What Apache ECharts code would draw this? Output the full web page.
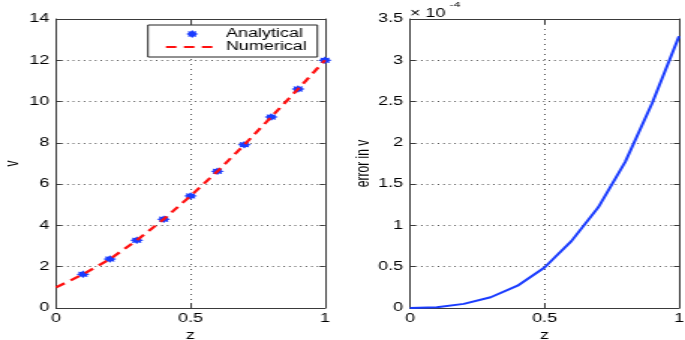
<!DOCTYPE html>
<html>
<head>
<meta charset="utf-8">
<script src="https://cdn.jsdelivr.net/npm/echarts@6/dist/echarts.min.js"></script>
<style>
  html, body { margin: 0; padding: 0; background: #fff; overflow: hidden; }
  /* the source figure is stretched sideways, so draw narrow and widen it */
  #chart { width: 457px; height: 340px; transform: scaleX(1.4989); transform-origin: 0 0; }
</style>
</head>
<body>
<div id="chart"></div>
<script>
// z positions
const zNum = [0, 0.1, 0.2, 0.3, 0.4, 0.5, 0.6, 0.7, 0.8, 0.9, 1.0]
const zAna = [0.1, 0.2, 0.3, 0.4, 0.5, 0.6, 0.7, 0.8, 0.9, 1.0]
// v values
const vNumerical = [1.0, 1.63, 2.37, 3.28, 4.3, 5.43, 6.62, 7.91, 9.25, 10.61, 12.0]
const vAnalytical = [1.63, 2.37, 3.28, 4.3, 5.43, 6.62, 7.91, 9.25, 10.61, 12.0]
// error in v, in units of 1e-4
const errV = [0, 0.01, 0.05, 0.13, 0.27, 0.49, 0.81, 1.22, 1.77, 2.48, 3.29]

const FONT = 'Liberation Sans'
const AXIS = '#3a3a3a'
const BLUE = '#1a3cff'
const RED = '#ff1010'
// asterisk-like marker
const STAR = 'path://M20 10L16 12.49L17.07 17.07L12.49 16L10 20L7.51 16L2.93 17.07L4 12.49L0 10L4 7.51L2.93 2.93L7.51 4L10 0L12.49 4L17.07 2.93L16 7.51Z'

const chart = echarts.init(document.getElementById('chart'))

function xMain(grid) {
  return {
    gridIndex: grid, type: 'value', min: 0, max: 1, interval: 0.5, position: 'bottom',
    name: 'z', nameLocation: 'middle', nameGap: 17,
    nameTextStyle: { fontFamily: FONT, fontSize: 12, color: '#000' },
    axisLine: { show: true, onZero: false, lineStyle: { color: AXIS, width: 1 } },
    axisTick: { show: true, inside: true, length: 5, lineStyle: { color: AXIS } },
    axisLabel: { fontFamily: FONT, fontSize: 12, color: '#000', margin: 5 },
    splitLine: { show: true, lineStyle: { color: '#555', width: 1, type: [1, 4] } },
  }
}
function xTop(grid) {
  return {
    gridIndex: grid, type: 'value', min: 0, max: 1, interval: 0.5, position: 'top',
    axisLine: { show: true, onZero: false, lineStyle: { color: AXIS, width: 1 } },
    axisTick: { show: true, inside: true, length: 5, lineStyle: { color: AXIS } },
    axisLabel: { show: false }, splitLine: { show: false },
  }
}
function yMain(grid, max, interval, name, gap) {
  return {
    gridIndex: grid, type: 'value', min: 0, max: max, interval: interval, position: 'left',
    name: name, nameLocation: 'middle', nameGap: gap,
    nameTextStyle: { fontFamily: FONT, fontSize: 12, color: '#000' },
    axisLine: { show: true, onZero: false, lineStyle: { color: AXIS, width: 1 } },
    axisTick: { show: true, inside: true, length: 3.5, lineStyle: { color: AXIS } },
    axisLabel: { fontFamily: FONT, fontSize: 12, color: '#000', margin: 4.5 },
    splitLine: { show: true, lineStyle: { color: '#555', width: 1, type: [1, 2.7] } },
  }
}
function yRight(grid, max, interval) {
  return {
    gridIndex: grid, type: 'value', min: 0, max: max, interval: interval, position: 'right',
    axisLine: { show: true, onZero: false, lineStyle: { color: AXIS, width: 1 } },
    axisTick: { show: true, inside: true, length: 3.5, lineStyle: { color: AXIS } },
    axisLabel: { show: false }, splitLine: { show: false },
  }
}

const option = {
  animation: false,
  backgroundColor: '#fff',
  grid: [
    { left: 37.4, top: 19, width: 179.4, height: 289, containLabel: false, outerBoundsMode: 'none' },
    { left: 273.5, top: 19, width: 179.5, height: 289, containLabel: false, outerBoundsMode: 'none' },
  ],
  xAxis: [xMain(0), xTop(0), xMain(1), xTop(1)],
  yAxis: [
    yMain(0, 14, 2, 'v', 23),
    yRight(0, 14, 2),
    yMain(1, 3.5, 0.5, 'error in v', 21),
    yRight(1, 3.5, 0.5),
  ],
  legend: {
    orient: 'vertical',
    left: 98.7,
    top: 25,
    padding: [3, 7, 4, 11],
    itemGap: 1,
    itemWidth: 35,
    itemHeight: 8,
    borderColor: '#222',
    borderWidth: 1,
    borderRadius: 0,
    backgroundColor: '#fff',
    textStyle: { fontFamily: FONT, fontSize: 12, color: '#000', lineHeight: 12 },
    data: [
      { name: 'Analytical', icon: STAR },
      { name: 'Numerical', itemStyle: { opacity: 0 } },
    ],
  },
  graphic: [
    {
      type: 'text', left: 273.5, top: 8,
      style: { text: '× 10', font: '12px "Liberation Sans"', fill: '#000' },
    },
    {
      type: 'text', left: 300, top: 1,
      style: { text: '-4', font: '8px "Liberation Sans"', fill: '#000' },
    },
  ],
  series: [
    {
      name: 'Analytical',
      type: 'scatter',
      xAxisIndex: 0, yAxisIndex: 0,
      symbol: STAR,
      symbolSize: [9, 7.5],
      itemStyle: { color: BLUE, opacity: 1 },
      data: zAna.map((z, i) => [z, vAnalytical[i]]),
    },
    {
      name: 'Numerical',
      type: 'line',
      xAxisIndex: 0, yAxisIndex: 0,
      symbol: 'none',
      lineStyle: { color: RED, width: 2.2, type: [7, 5] },
      data: zNum.map((z, i) => [z, vNumerical[i]]),
    },
    {
      name: 'error',
      type: 'line',
      xAxisIndex: 2, yAxisIndex: 2,
      symbol: 'none',
      lineStyle: { color: BLUE, width: 2 },
      data: zNum.map((z, i) => [z, errV[i]]),
    },
  ],
}

chart.setOption(option)
</script>
</body>
</html>
